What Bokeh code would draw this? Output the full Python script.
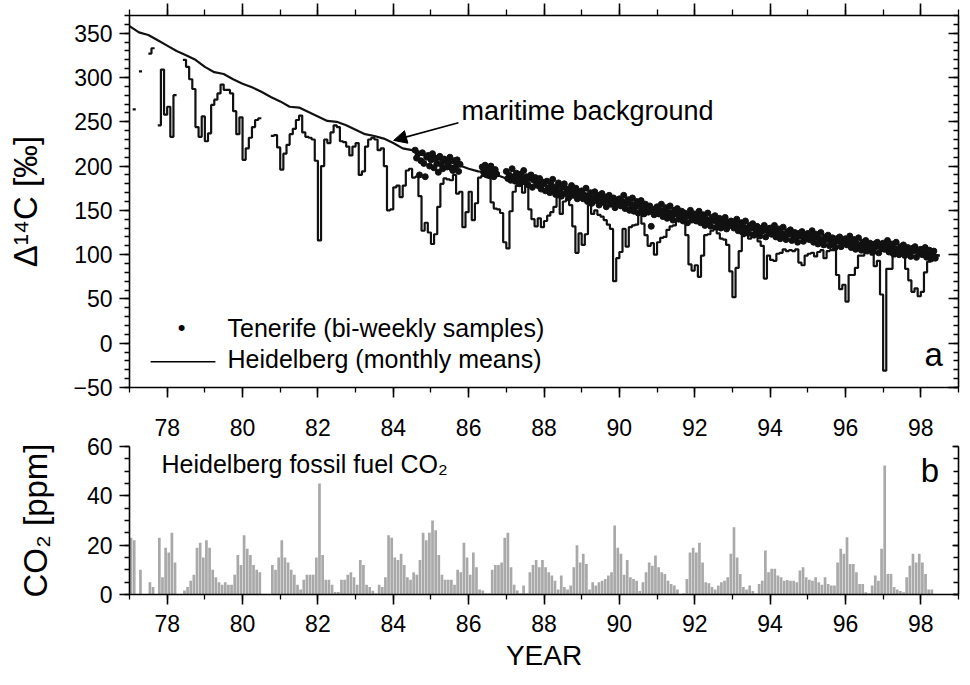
import numpy as np
from bokeh.plotting import figure
from bokeh.models import (Range1d, LinearAxis, SingleIntervalTicker, Label, Arrow, NormalHead)
from bokeh.layouts import column
from bokeh.embed import file_html
from bokeh.resources import INLINE

nan = float("nan")
FONT = "Liberation Sans"

# ---------------- data ----------------
# Heidelberg monthly mean D14C (permil), Jan..Dec of each year (first month = Jan 1977)
heid_77 = [nan, 264, nan, 307, nan, nan, 327, 333, nan, 246, 309, 258]
heid_78 = [267, 233, 280, nan, nan, 320, 312, 298, 287, 244, 233, 256]
heid_79 = [228, 237, 269, 275, 282, 292, 286, 286, 282, 262, 236, 255]
heid_80 = [207, 220, 232, 244, 252, 254, nan, nan, nan, 234, 235, 221]
heid_81 = [196, 214, 224, 236, 242, 252, 257, 238, 233, 232, 230, 206]
heid_82 = [116, 200, 230, 226, 238, 246, 244, 228, 227, 222, 212, 222]
heid_83 = [226, 190, 194, 222, 230, 232, 230, 218, 220, 200, 150, 151]
heid_84 = [176, 178, 165, 178, 195, 197, 187, 188, 166, 127, 136, 125]
heid_85 = [112, 123, 154, 180, 186, 185, 184, 190, 169, 171, 131, 148]
heid_86 = [171, 139, 158, 187, 189, 191, 191, 159, 152, 151, 147, 114]
heid_87 = [107, 149, 171, 178, 180, 170, 179, 151, 140, 132, 141, 131]
heid_88 = [138, 144, 148, 154, 165, 146, 160, 163, 156, 132, 102, 124]
heid_89 = [111, 123, 156, 146, 150, 145, 143, 139, 134, 129, 70, 96]
heid_90 = [103, 129, 109, 131, 133, 134, 147, 135, 122, 110, 113, 100]
heid_91 = [114, 119, 120, 128, 132, 133, 138, 145, 141, 122, 89, 82]
heid_92 = [88, 75, 99, 122, 123, 127, 130, 124, 118, 117, 111, 81]
heid_93 = [52, 85, 104, 121, 123, 118, 125, 127, 115, 110, 73, 99]
heid_94 = [94, 93, 101, 102, 106, 104, 105, 104, 106, 91, 88, 99]
heid_95 = [101, 102, 98, 103, 105, 96, 104, 105, 105, 77, 61, 66]
heid_96 = [47, 77, 77, 85, 99, 99, 107, 108, 100, 87, 93, 55]
heid_97 = [-31, 84, 84, 98, 100, 101, 102, 84, 71, 58, 62, 53]
heid_98 = [58, 80, 92, 96, 98, 99]

# Heidelberg fossil fuel CO2 (ppm), monthly, Jan..Dec
co2_77 = [23, 22, nan, 10, nan, nan, 5, 3, nan, 23, 7, 19]
co2_78 = [17, 25, 13, nan, nan, 1.6, 3, 5.6, 8, 19, 21, 15]
co2_79 = [22, 19, 10, 7, 5, 4, 5, 4, 4, 8, 16, 12]
co2_80 = [24, 18.5, 16, 12, 10, 9, nan, nan, nan, 12, 10, 15]
co2_81 = [22, 15, 13, 10, 8, 4, 2, 6, 8, 8, 8, 15]
co2_82 = [45, 16, 6, 6, 4, 1, 1, 6, 6, 8, 9, 7]
co2_83 = [4, 14, 12, 4, 3, 1.5, 0.5, 4, 3, 7, 24, 23]
co2_84 = [15, 14, 16.5, 12, 7, 6, 9, 8, 14, 25, 22, 25]
co2_85 = [30, 26, 16, 8, 6, 6, 6, 4, 10, 9, 21, 15]
co2_86 = [8, 17, 11, 2, 1.6, 0.5, 0.5, 10, 12, 12, 13, 23]
co2_87 = [25, 11, 4, 1.6, 0.5, 3.6, 0.5, 9, 12, 14, 11, 14]
co2_88 = [11, 9, 7.7, 5.6, 2, 7.7, 3, 2, 3.6, 11, 20, 13]
co2_89 = [16.5, 12.4, 2, 5, 3.6, 5, 5.6, 6.3, 7.7, 9, 28, 19]
co2_90 = [16.5, 8, 14, 7, 6.3, 5.6, 1.4, 5, 9, 13, 11.7, 15.8]
co2_91 = [11, 9, 8.3, 5.6, 4.3, 3.6, 2, -1, 0.5, 6.3, 17, 19]
co2_92 = [17, 21, 13, 5, 4.6, 3, 2, 3.6, 5, 5.6, 7, 16.5]
co2_93 = [27.3, 15, 8.3, 3, 2, 3.6, 1.4, 0.5, 4.3, 5.6, 17.8, 9]
co2_94 = [10.4, 10.4, 7.7, 7, 5.6, 5.9, 5.6, 5.6, 5, 9.7, 11, 7]
co2_95 = [6, 5.6, 7, 5, 4, 7, 4.3, 3.6, 3.6, 13, 18.5, 16.5]
co2_96 = [23.2, 12.4, 12.4, 9, 4.3, 4.3, 0.9, 0.5, 3.6, 7.7, 5.6, 18.5]
co2_97 = [52.3, 8.3, 8.3, 3, 2, 1.4, 0.9, 7, 11.7, 16.5, 13, 16.5]
co2_98 = [13, 8.3, 2, 2]

# maritime background curve, quarterly from 1977.0
bg_first_year = 77.0
bg_step_years = 0.25
background = [358, 351, 348, 342, 336, 330, 325, 320, 312, 306, 304, 298,
              293, 289, 284, 278, 273, 267, 266, 261, 256, 251, 250, 246,
              241, 236, 234, 231, 226, 220, 218, 213, 210, 207, 205, 201,
              197, 194, 193, 190, 186, 183, 181, 177, 174, 172, 170, 167,
              165, 162, 161, 158, 156, 153, 152, 150, 148, 145, 144, 142,
              140, 137, 136, 134, 132, 130, 129, 127, 125, 123, 122, 120,
              119, 117, 116, 114, 113, 111, 110, 109, 108, 106, 105, 104,
              103, 101, 99]

# Tenerife bi-weekly samples (26 per year), three sampling periods
ten_a_start = 84.58
tenerife_a = [218, 209, 214, 190, 206, 215, 203, 188, 210, 212, 200, 207, 214,
              198, 209, 203, 193, 211, 202, 197, 208, 206, 199, 204, 210, 198,
              195, 206, 199, 207, 194, 202]
ten_b_start = 86.36
tenerife_b = [199, 193, 201, 190, 197, 189, 200, 194, 188, 196, 191]
ten_c_start = 87.0
ten_87 = [194, 186, 190, 184, 197, 188, 183, 192, 187, 180, 191, 185, 195,
          182, 188, 179, 186, 190, 176, 184, 187, 181, 178, 186, 174, 182]
ten_88 = [180, 172, 183, 175, 170, 179, 185, 173, 168, 177, 181, 171, 166,
          176, 180, 169, 174, 164, 172, 178, 167, 170, 175, 163, 171, 168]
ten_89 = [172, 163, 167, 175, 160, 166, 170, 158, 164, 171, 161, 167, 156,
          163, 169, 159, 165, 154, 162, 167, 157, 160, 164, 153, 161, 158]
ten_90 = [163, 155, 160, 167, 152, 158, 162, 150, 157, 164, 149, 155, 160,
          147, 156, 161, 151, 146, 157, 153, 148, 155, 132, 150, 145, 152]
ten_91 = [154, 146, 150, 157, 143, 149, 153, 141, 148, 155, 144, 139, 150,
          146, 152, 140, 145, 149, 138, 147, 143, 136, 146, 150, 139, 144]
ten_92 = [146, 138, 143, 149, 136, 141, 145, 133, 140, 147, 137, 132, 142,
          139, 144, 131, 137, 141, 130, 138, 135, 142, 129, 136, 133, 138]
ten_93 = [137, 130, 134, 140, 127, 133, 136, 125, 131, 138, 128, 124, 133,
          130, 135, 122, 129, 132, 126, 121, 130, 127, 133, 120, 128, 125]
ten_94 = [130, 123, 127, 133, 120, 126, 129, 118, 124, 131, 121, 117, 126,
          123, 128, 116, 122, 125, 119, 114, 124, 121, 126, 115, 122, 119]
ten_95 = [124, 117, 121, 127, 114, 120, 123, 112, 118, 125, 115, 111, 120,
          117, 122, 110, 116, 119, 113, 108, 118, 115, 120, 109, 116, 113]
ten_96 = [118, 111, 115, 121, 108, 114, 117, 106, 112, 119, 109, 105, 114,
          111, 116, 104, 110, 113, 107, 103, 112, 109, 114, 102, 110, 107]
ten_97 = [113, 106, 110, 116, 103, 109, 112, 101, 107, 114, 104, 100, 109,
          106, 111, 99, 105, 108, 102, 98, 107, 104, 109, 97, 105, 102]
ten_98 = [106, 100, 103, 108, 97, 102, 105, 95, 101, 104, 96]

# ---------------- derived arrays ----------------
heid = (heid_77 + heid_78 + heid_79 + heid_80 + heid_81 + heid_82 + heid_83 + heid_84 +
        heid_85 + heid_86 + heid_87 + heid_88 + heid_89 + heid_90 + heid_91 + heid_92 +
        heid_93 + heid_94 + heid_95 + heid_96 + heid_97 + heid_98)
co2 = (co2_77 + co2_78 + co2_79 + co2_80 + co2_81 + co2_82 + co2_83 + co2_84 +
       co2_85 + co2_86 + co2_87 + co2_88 + co2_89 + co2_90 + co2_91 + co2_92 +
       co2_93 + co2_94 + co2_95 + co2_96 + co2_97 + co2_98)

FIRST = 77.0
step_x, step_y = [], []
for i, v in enumerate(heid):
    t = FIRST + i / 12.0
    if np.isnan(v):
        step_x.append(nan); step_y.append(nan)
    else:
        step_x += [t, t + 1 / 12.0]
        step_y += [v, v]

bar_x = [FIRST + (i + 0.5) / 12.0 for i, v in enumerate(co2) if not np.isnan(v)]
bar_top = [v for v in co2 if not np.isnan(v)]

bg_x = [bg_first_year + i * bg_step_years for i in range(len(background))]

ten_c = ten_87 + ten_88 + ten_89 + ten_90 + ten_91 + ten_92 + ten_93 + ten_94 + ten_95 + ten_96 + ten_97 + ten_98
ten_x = ([ten_a_start + k / 26.0 for k in range(len(tenerife_a))] +
         [ten_b_start + k / 26.0 for k in range(len(tenerife_b))] +
         [ten_c_start + k / 26.0 for k in range(len(ten_c))])
ten_y = tenerife_a + tenerife_b + ten_c

# ---------------- helpers ----------------
def style_axis(ax, interval, n_minor, out_major, in_major, out_minor, in_minor,
               labels=True, font_size="23px", standoff=7):
    ax.ticker = SingleIntervalTicker(interval=interval, num_minor_ticks=n_minor)
    ax.axis_line_color = "black"
    ax.axis_line_width = 1.6
    ax.major_tick_line_color = "black"
    ax.major_tick_line_width = 1.6
    ax.minor_tick_line_color = "black"
    ax.minor_tick_line_width = 1.3
    ax.major_tick_out = out_major
    ax.major_tick_in = in_major
    ax.minor_tick_out = out_minor
    ax.minor_tick_in = in_minor
    ax.major_label_text_font = FONT
    ax.axis_label_text_font = FONT
    ax.axis_label_text_font_style = "normal"
    ax.axis_label_text_color = "black"
    if labels:
        ax.major_label_text_color = "black"
        ax.major_label_text_font_size = font_size
        ax.major_label_standoff = standoff
    else:
        ax.major_label_text_color = None
        ax.major_label_text_font_size = "1px"
        ax.major_label_standoff = 0


xr = Range1d(77, 99)

# ---------------- panel a ----------------
p1 = figure(width=968, height=400, x_range=xr, y_range=Range1d(-50, 370),
            output_backend="svg", toolbar_location=None,
            min_border_left=129, min_border_right=10, min_border_top=15, min_border_bottom=13)
p1.grid.visible = False
p1.outline_line_color = None
p1.background_fill_color = "white"
p1.border_fill_color = "white"

a_bottom = p1.below[0]
a_left = p1.left[0]
style_axis(a_bottom, 2, 2, 10, 0, 5, 0, labels=False)
style_axis(a_left, 50, 5, 10, 0, 5, 0, standoff=7)
a_left.axis_label = "Δ¹⁴C [‰]"
a_left.axis_label_text_font_size = "33px"
a_left.axis_label_standoff = 26

a_top = LinearAxis()
style_axis(a_top, 2, 2, 12, 0, 6, 0, labels=False)
p1.add_layout(a_top, "above")
a_right = LinearAxis()
style_axis(a_right, 50, 5, 0, 10, 0, 5, labels=False)
p1.add_layout(a_right, "right")

p1.line(step_x, step_y, line_color="#111111", line_width=2.2)
p1.line(bg_x, background, line_color="#111111", line_width=2.2)
p1.scatter(ten_x, ten_y, size=6, marker="circle", fill_color="#111111", line_color="#111111")

# legend (drawn as annotations)
p1.add_layout(Label(x=78.38, y=18, text="•", text_font=FONT, text_font_size="22px",
                    text_color="black", text_align="center", text_baseline="middle"))
p1.add_layout(Arrow(start=None, end=None, x_start=77.56, y_start=-21, x_end=79.28, y_end=-21,
                    line_color="black", line_width=1.6))
p1.add_layout(Label(x=79.6, y=17.7, text="Tenerife (bi-weekly samples)", text_font=FONT,
                    text_font_size="25px", text_color="black", text_baseline="middle"))
p1.add_layout(Label(x=79.6, y=-18, text="Heidelberg (monthly means)", text_font=FONT,
                    text_font_size="25px", text_color="black", text_baseline="middle"))

p1.add_layout(Arrow(end=NormalHead(size=13, fill_color="black", line_color="black"),
                    x_start=85.73, y_start=249, x_end=84.01, y_end=229,
                    line_color="black", line_width=1.6))
p1.add_layout(Label(x=85.81, y=262, text="maritime background", text_font=FONT,
                    text_font_size="27px", text_color="black", text_baseline="middle"))
p1.add_layout(Label(x=98.1, y=-12.3, text="a", text_font=FONT, text_font_size="33px",
                    text_color="black", text_baseline="middle"))

# ---------------- panel b ----------------
p2 = figure(width=968, height=280, x_range=xr, y_range=Range1d(0, 60),
            output_backend="svg", toolbar_location=None,
            min_border_left=129, min_border_right=10, min_border_top=46, min_border_bottom=86)
p2.grid.visible = False
p2.outline_line_color = None
p2.background_fill_color = "white"
p2.border_fill_color = "white"

b_bottom = p2.below[0]
b_left = p2.left[0]

# tick labels of panel a's time axis (placed just above panel b)
b_top_labels = LinearAxis()
style_axis(b_top_labels, 2, 2, 0, 0, 0, 0, standoff=11)
b_top_labels.axis_line_color = None
b_top_labels.major_tick_line_color = None
b_top_labels.minor_tick_line_color = None
p2.add_layout(b_top_labels, "above")

style_axis(b_bottom, 2, 2, 10, 0, 5, 0, standoff=10)
b_bottom.axis_label = "YEAR"
b_bottom.axis_label_text_font_size = "28px"
b_bottom.axis_label_standoff = 5
style_axis(b_left, 20, 4, 10, 0, 5, 0, standoff=7)
b_left.axis_label = "CO₂ [ppm]"
b_left.axis_label_text_font_size = "33px"
b_left.axis_label_standoff = 30
b_right = LinearAxis()
style_axis(b_right, 20, 4, 0, 6, 0, 5, labels=False)
p2.add_layout(b_right, "right")

p2.vbar(x=bar_x, top=bar_top, bottom=0, width=1 / 12.0 * 0.86,
        fill_color="#a9a9a9", line_color=None)

p2.add_layout(Label(x=77.85, y=53.1, text="Heidelberg fossil fuel CO₂", text_font=FONT,
                    text_font_size="25px", text_color="black", text_baseline="middle"))
p2.add_layout(Label(x=98.0, y=50.1, text="b", text_font=FONT, text_font_size="33px",
                    text_color="black", text_baseline="middle"))

layout = column(p1, p2)
open("out.html", "w").write(file_html(layout, INLINE))
